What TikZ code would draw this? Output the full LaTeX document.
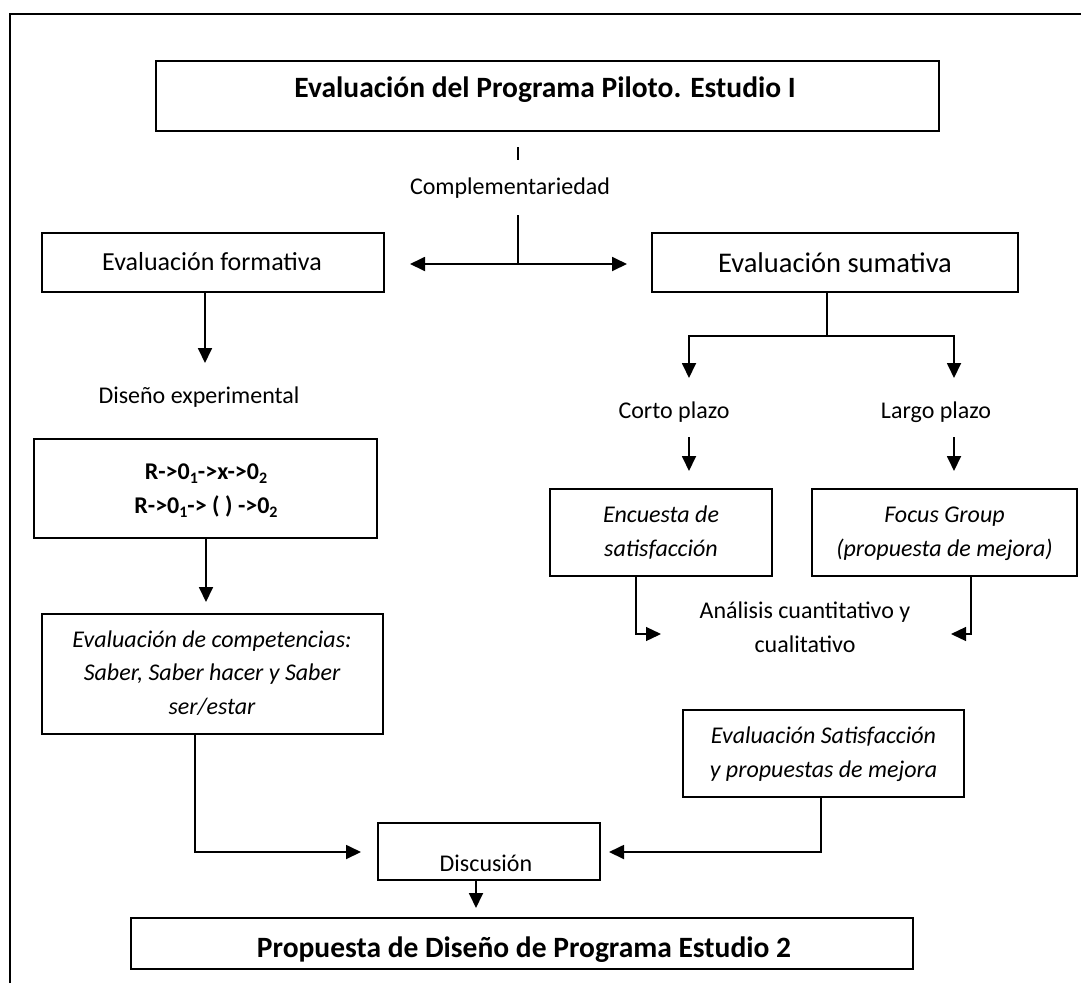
\documentclass[tikz,border=0pt]{standalone}
\usepackage{fontspec}
\setmainfont{Carlito}
\usetikzlibrary{arrows.meta}
\newcommand{\lowsub}[1]{\raisebox{-4pt}{\fontsize{16}{16}\selectfont #1}}
\begin{document}
\begin{tikzpicture}[x=1pt,y=-1pt,
  box/.style={draw, line width=1.3pt, rectangle, inner sep=0pt},
  lbl/.style={anchor=base, inner sep=0pt, align=center},
  body/.style={font=\fontsize{24}{33.5}\selectfont},
  bodyit/.style={font=\fontsize{24}{33.5}\selectfont\itshape},
  head/.style={font=\fontsize{29.5}{34}\selectfont\bfseries},
  conn/.style={line width=1.8pt, -{Triangle[length=15pt,width=14pt]}},
  plain/.style={line width=1.3pt}]

\useasboundingbox (0,0) rectangle (1081,983);
\fill[white] (0,0) rectangle (1081,983);

% outer frame (top and left sides)
\draw[plain] (10,983) -- (10,14) -- (1081,14);

% boxes
\node[box, minimum width=783pt, minimum height=70pt] (top) at (547.5,96) {};
\node[box, minimum width=342pt, minimum height=59pt] (form) at (213,262.5) {};
\node[box, minimum width=366pt, minimum height=59pt] (sum) at (835,262.5) {};
\node[box, minimum width=343pt, minimum height=99pt] (rbox) at (205.5,488.5) {};
\node[box, minimum width=341pt, minimum height=120pt] (comp) at (212.5,674) {};
\node[box, minimum width=222pt, minimum height=87pt] (enc) at (661,532.5) {};
\node[box, minimum width=265pt, minimum height=87pt] (focus) at (944.5,532.5) {};
\node[box, minimum width=281pt, minimum height=87pt] (evs) at (823.5,753.5) {};
\node[box, minimum width=222pt, minimum height=57pt] (disc) at (489,851.5) {};
\node[box, minimum width=782pt, minimum height=51pt] (prop) at (522,943.5) {};

% texts
\node[lbl, head] (ttop) at (545,97) {Evaluación del Programa Piloto. Estudio I};
\node[lbl, body] (tcomp) at (510,194) {Complementariedad};
\node[lbl, font=\fontsize{26}{30}\selectfont] (tform) at (212,270) {Evaluación formativa};
\node[lbl, font=\fontsize{28.5}{32}\selectfont] (tsum) at (835,272) {Evaluación sumativa};
\node[lbl, body] (tdis) at (199,403) {Diseño experimental};
\node[lbl, body, font=\fontsize{24}{34}\selectfont\bfseries] (tr) at (206,513)
  {R->0\lowsub{1}->x->0\lowsub{2}\\R->0\lowsub{1}-> ( ) ->0\lowsub{2}};
\node[lbl, bodyit] (tcompet) at (212,714)
  {Evaluación de competencias:\\Saber, Saber hacer y Saber\\ser/estar};
\node[lbl, body] (tcorto) at (674,418) {Corto plazo};
\node[lbl, body] (tlargo) at (936,418) {Largo plazo};
\node[lbl, bodyit] (tenc) at (661,556) {Encuesta de\\satisfacción};
\node[lbl, bodyit] (tfocus) at (944.5,556) {Focus Group\\(propuesta de mejora)};
\node[lbl, body] (tanal) at (805,652) {Análisis cuantitativo y\\cualitativo};
\node[lbl, bodyit] (tevs) at (823.5,777) {Evaluación Satisfacción\\y propuestas de mejora};
\node[lbl, body] (tdisc) at (486,871) {Discusión};
\node[lbl, head] (tprop) at (524,957) {Propuesta de Diseño de Programa Estudio 2};

% free ends of connectors
\coordinate (tickA) at (518,147);
\coordinate (tickB) at (518,160);
\coordinate (jtop) at (518,215);
\coordinate (jmid) at (518,264);
\coordinate (tipL) at (410,264);
\coordinate (tipR) at (627,264);
\coordinate (tipDis) at (205,363);
\coordinate (tipComp) at (206,602);
\coordinate (sumSplit) at (827,336);
\coordinate (tipCorto) at (689,378);
\coordinate (tipLargo) at (954,378);
\coordinate (cortoA) at (689,437);
\coordinate (cortoB) at (689,471);
\coordinate (largoA) at (954,437);
\coordinate (largoB) at (954,471);
\coordinate (encDown) at (636,634);
\coordinate (tipEnc) at (661,634);
\coordinate (focDown) at (971,634);
\coordinate (tipFoc) at (951,634);
\coordinate (compDown) at (195,852);
\coordinate (tipDiscL) at (361,852);
\coordinate (evsDown) at (821,852);
\coordinate (tipDiscR) at (609,852);
\coordinate (tipProp) at (476,908);

% connectors
\draw[plain] (tickA) -- (tickB);
\draw[plain] (jtop) -- (jmid);
\draw[conn] (jmid) -- (tipL);
\draw[conn] (jmid) -- (tipR);
\draw[conn] (form.south -| tipDis) -- (tipDis);
\draw[conn] (rbox.south -| tipComp) -- (tipComp);
\draw[plain] (sum.south -| sumSplit) -- (sumSplit);
\draw[conn] (sumSplit) -| (tipCorto);
\draw[conn] (sumSplit) -| (tipLargo);
\draw[conn] (cortoA) -- (cortoB);
\draw[conn] (largoA) -- (largoB);
\draw[plain, -{Triangle[length=15pt,width=14pt]}] (enc.south -| encDown) -- (encDown) -- (tipEnc);
\draw[plain, -{Triangle[length=15pt,width=14pt]}] (focus.south -| focDown) -- (focDown) -- (tipFoc);
\draw[conn] (comp.south -| compDown) -- (compDown) -- (tipDiscL);
\draw[conn] (evs.south -| evsDown) -- (evsDown) -- (tipDiscR);
\draw[conn] (disc.south -| tipProp) -- (tipProp);
\end{tikzpicture}
\end{document}
